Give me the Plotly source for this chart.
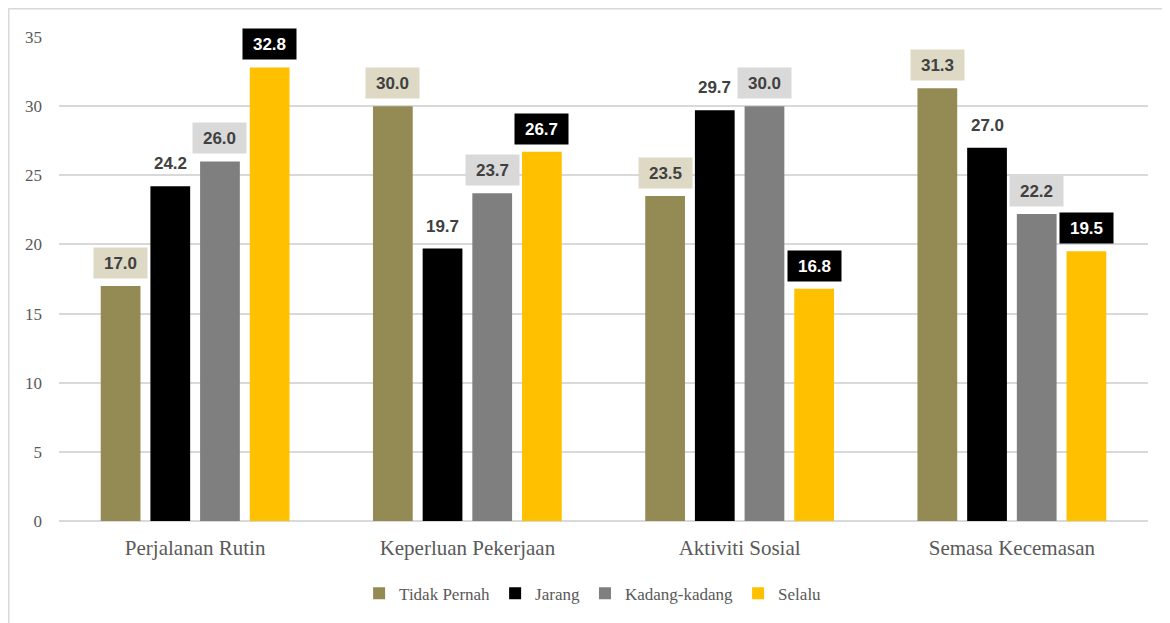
import plotly.graph_objects as go

categories = ["Perjalanan Rutin", "Keperluan Pekerjaan", "Aktiviti Sosial", "Semasa Kecemasan"]
series_names = ["Tidak Pernah", "Jarang", "Kadang-kadang", "Selalu"]
tidak_pernah = [17.0, 30.0, 23.5, 31.3]
jarang = [24.2, 19.7, 29.7, 27.0]
kadang = [26.0, 23.7, 30.0, 22.2]
selalu = [32.8, 26.7, 16.8, 19.5]
y_ticks = [0, 5, 10, 15, 20, 25, 30, 35]

values = [tidak_pernah, jarang, kadang, selalu]
bar_colors = ["#948A54", "#000000", "#7F7F7F", "#FFC000"]
label_bg = ["#DDD9C4", "rgba(0,0,0,0)", "#D9D9D9", "#000000"]
label_fg = ["#404040", "#404040", "#404040", "#FFFFFF"]

bargap = 0.27
bargroupgap = 0.2

fig = go.Figure()
for name, vals, col in zip(series_names, values, bar_colors):
    fig.add_trace(go.Bar(name=name, x=categories, y=vals, marker_color=col,
                         marker_line_width=0))

n = len(series_names)
group_w = 1 - bargap
slot = group_w / n
annotations = []
for si, vals in enumerate(values):
    off = -group_w / 2 + slot * (si + 0.5)
    for ci, v in enumerate(vals):
        annotations.append(dict(
            x=ci + off, y=v, xref="x", yref="y", text=f"<b>{v:.1f}</b>",
            showarrow=False, yanchor="bottom", yshift=7,
            font=dict(family="Liberation Sans, Arial", size=17, color=label_fg[si]),
            bgcolor=label_bg[si], borderpad=4, width=45, height=22,
        ))

L, T, PW, PH = 51, 29, 1089, 484
fig.update_layout(
    width=1170, height=623,
    margin=dict(l=L, r=1170 - L - PW, t=T, b=623 - T - PH),
    paper_bgcolor="white", plot_bgcolor="white",
    barmode="group", bargap=bargap, bargroupgap=bargroupgap,
    showlegend=True,
    legend=dict(orientation="h", x=0.49, xanchor="center", y=-0.113, yanchor="top",
                font=dict(family="Liberation Serif, Times New Roman", size=17, color="#595959"),
                itemwidth=30, traceorder="normal"),
    annotations=annotations,
    shapes=[dict(type="rect", xref="paper", yref="paper",
                 x0=(0.75 - L) / PW, x1=(1180 - L) / PW,
                 y0=(T + PH - 640) / PH, y1=(T + PH - 0.75) / PH,
                 line=dict(color="#D9D9D9", width=1.5), fillcolor="rgba(0,0,0,0)", layer="below")],
)
fig.update_xaxes(showgrid=False, showline=False, ticks="", ticklabelstandoff=12,
                 tickfont=dict(family="Liberation Serif, Times New Roman", size=21, color="#595959"))
fig.update_yaxes(range=[0, 35], tickvals=y_ticks, showgrid=True, gridcolor="#D9D9D9", gridwidth=1.5,
                 zeroline=True, zerolinecolor="#D9D9D9", zerolinewidth=1.5, showline=False, ticks="",
                 ticklabelstandoff=16,
                 tickfont=dict(family="Liberation Serif, Times New Roman", size=17, color="#595959"))

fig.write_html("out.html")
